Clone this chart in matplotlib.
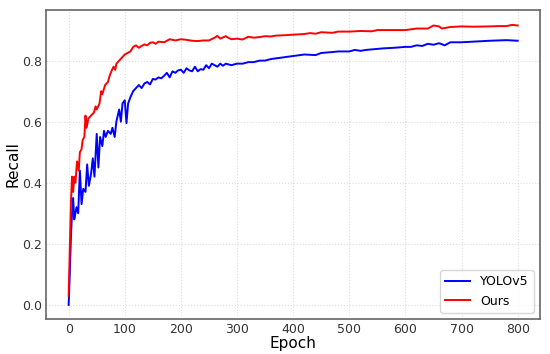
import matplotlib.pyplot as plt
import numpy as np

# valores
ep_ours = [0, 2, 4, 6, 8, 10, 12, 15, 18, 20, 23, 25, 28, 30, 32, 35, 40, 45, 48, 50, 55, 58, 60,
           65, 70, 73, 75, 80, 83, 85, 90, 95, 100, 105, 110, 115, 120, 125, 130, 135, 140, 145,
           150, 155, 160, 170, 180, 190, 200, 210, 220, 230, 240, 250, 260, 265, 270, 280, 285,
           290, 300, 310, 320, 330, 340, 350, 360, 370, 385, 400, 420, 430, 440, 450, 470, 480,
           500, 520, 540, 550, 580, 600, 620, 640, 650, 660, 665, 680, 700, 720, 750, 765, 780,
           790, 800]
rec_ours = [0.03, 0.18, 0.33, 0.42, 0.37, 0.42, 0.40, 0.47, 0.44, 0.50, 0.51, 0.54, 0.55, 0.62,
            0.58, 0.61, 0.62, 0.63, 0.65, 0.64, 0.66, 0.70, 0.69, 0.72, 0.73, 0.75, 0.76, 0.78,
            0.77, 0.79, 0.80, 0.81, 0.82, 0.825, 0.83, 0.845, 0.85, 0.842, 0.848, 0.853, 0.85,
            0.858, 0.86, 0.855, 0.862, 0.86, 0.87, 0.866, 0.87, 0.868, 0.865, 0.864, 0.866,
            0.866, 0.875, 0.881, 0.872, 0.88, 0.874, 0.87, 0.872, 0.869, 0.878, 0.875, 0.877,
            0.88, 0.879, 0.882, 0.883, 0.885, 0.887, 0.89, 0.888, 0.893, 0.891, 0.895, 0.895,
            0.897, 0.896, 0.90, 0.90, 0.90, 0.905, 0.905, 0.915, 0.912, 0.905, 0.91, 0.912,
            0.911, 0.912, 0.913, 0.913, 0.917, 0.915]

ep_yolo = [0, 2, 4, 6, 8, 10, 12, 14, 17, 20, 23, 26, 30, 33, 36, 40, 43, 46, 50, 53, 56, 60,
           63, 66, 70, 75, 78, 82, 85, 90, 93, 96, 100, 103, 106, 110, 115, 120, 125, 130, 135,
           140, 145, 150, 155, 160, 165, 170, 175, 180, 185, 190, 195, 200, 205, 210, 215, 220,
           225, 230, 235, 240, 245, 250, 255, 260, 265, 270, 275, 280, 290, 300, 310, 320, 330,
           340, 350, 360, 380, 400, 420, 440, 450, 470, 480, 500, 510, 520, 530, 560, 580, 600,
           610, 620, 630, 640, 650, 660, 670, 680, 700, 720, 750, 780, 800]
rec_yolo = [0.0, 0.10, 0.22, 0.30, 0.35, 0.28, 0.30, 0.32, 0.30, 0.44, 0.33, 0.38, 0.37, 0.46,
            0.39, 0.43, 0.48, 0.42, 0.56, 0.45, 0.55, 0.52, 0.57, 0.55, 0.57, 0.56, 0.58, 0.55,
            0.60, 0.64, 0.60, 0.66, 0.67, 0.595, 0.66, 0.68, 0.70, 0.71, 0.72, 0.71, 0.725,
            0.73, 0.722, 0.74, 0.738, 0.745, 0.742, 0.75, 0.76, 0.745, 0.765, 0.76, 0.768, 0.77,
            0.76, 0.775, 0.768, 0.765, 0.78, 0.765, 0.772, 0.77, 0.785, 0.775, 0.79, 0.785,
            0.78, 0.79, 0.783, 0.79, 0.785, 0.79, 0.79, 0.795, 0.795, 0.80, 0.80, 0.805, 0.81,
            0.815, 0.82, 0.818, 0.825, 0.828, 0.83, 0.83, 0.835, 0.832, 0.835, 0.84, 0.842,
            0.845, 0.845, 0.85, 0.848, 0.855, 0.852, 0.857, 0.85, 0.86, 0.86, 0.862, 0.865,
            0.867, 0.865]

fig = plt.figure(figsize=(5.5, 3.54), dpi=100)
ax = fig.add_axes([0.084, 0.099, 0.898, 0.873])

ax.plot(ep_yolo, rec_yolo, color='blue', lw=1.4, label='YOLOv5')
ax.plot(ep_ours, rec_ours, color='red', lw=1.4, label='Ours')

ax.set_xlim(-40, 840)
ax.set_ylim(-0.046, 0.966)
ax.set_xticks(np.arange(0, 801, 100))
ax.set_yticks([0.0, 0.2, 0.4, 0.6, 0.8])
ax.grid(True, linestyle=':', color='#dddddd', lw=0.8)
ax.tick_params(length=0, labelsize=9, colors='#333333', pad=3)
for s in ax.spines.values():
    s.set_color('#666666')
    s.set_linewidth(1.2)

ax.set_xlabel('Epoch', fontsize=11, labelpad=0)
ax.set_ylabel('Recall', fontsize=11, labelpad=1)
ax.legend(loc='lower right', fontsize=9, fancybox=True)

plt.savefig('out.png', format='png')
